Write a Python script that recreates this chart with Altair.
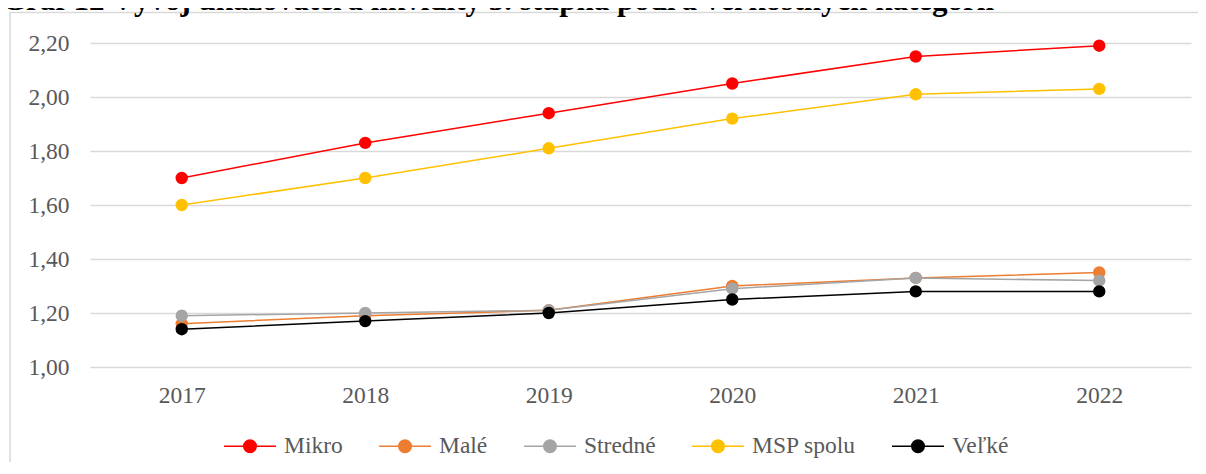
import altair as alt
import pandas as pd

# ---- data ----
years = ["2017", "2018", "2019", "2020", "2021", "2022"]
series = ["Mikro", "Malé", "Stredné", "MSP spolu", "Veľké"]
colors = ["#ff0000", "#ed7d31", "#a5a5a5", "#ffc000", "#000000"]
mikro = [1.70, 1.83, 1.94, 2.05, 2.15, 2.19]
male = [1.16, 1.19, 1.21, 1.30, 1.33, 1.35]
stredne = [1.19, 1.20, 1.21, 1.29, 1.33, 1.32]
msp_spolu = [1.60, 1.70, 1.81, 1.92, 2.01, 2.03]
velke = [1.14, 1.17, 1.20, 1.25, 1.28, 1.28]
y_ticks = [1.0, 1.2, 1.4, 1.6, 1.8, 2.0, 2.2]
title_text = "Graf 12 Vývoj ukazovateľa likvidity 3. stupňa podľa veľkostných kategórií"

values = [mikro, male, stredne, msp_spolu, velke]
rows = []
for s, vals in zip(series, values):
    for yr, v in zip(years, vals):
        rows.append({"rok": yr, "seria": s, "hodnota": v})
df = pd.DataFrame(rows)

FONT = "Liberation Serif"
GREY = "#595959"

# legend symbol: a line with a (ring-filled) dot in the middle
rings = [0.24, 0.192, 0.144, 0.096, 0.048, 0.015]
path = "M-1,0H1"
for r in rings:
    path += f"M{-r},0A{r},{r} 0 1,1 {r},0A{r},{r} 0 1,1 {-r},0"

color = alt.Color(
    "seria:N",
    scale=alt.Scale(domain=series, range=colors),
    sort=series,
    legend=alt.Legend(
        title=None,
        orient="none",
        direction="horizontal",
        legendX=133,
        legendY=376,
        columns=5,
        symbolType=path,
        symbolSize=2704,
        symbolStrokeWidth=1.5,
        labelFont=FONT,
        labelFontSize=23.5,
        labelColor=GREY,
        labelOffset=7,
        columnPadding=33,
        padding=0,
        labelLimit=300,
    ),
)

x = alt.X(
    "rok:O",
    sort=years,
    scale=alt.Scale(type="point", padding=0.5),
    axis=alt.Axis(
        title=None,
        labelAngle=0,
        labelFont=FONT,
        labelFontSize=23.5,
        labelColor=GREY,
        labelPadding=16,
        ticks=False,
        domain=False,
        grid=False,
    ),
)
y = alt.Y(
    "hodnota:Q",
    scale=alt.Scale(domain=[1.0, 2.2], nice=False, zero=False),
    axis=alt.Axis(
        title=None,
        values=y_ticks,
        labelExpr="replace(format(datum.value, '.2f'), '.', ',')",
        labelFont=FONT,
        labelFontSize=23.5,
        labelColor=GREY,
        labelPadding=21,
        ticks=False,
        domain=False,
        grid=True,
        gridColor="#d9d9d9",
        gridWidth=1.5,
    ),
)

base = alt.Chart(df)
lines = base.mark_line(strokeWidth=1.5).encode(x=x, y=y, color=color, detail="seria:N")
points = base.mark_point(filled=True, size=154, opacity=1).encode(
    x=x, y=y, color=alt.Color("seria:N", scale=alt.Scale(domain=series, range=colors), legend=None)
)

frame = alt.Chart(pd.DataFrame({"a": [0]})).mark_rect(
    fillOpacity=0, stroke="#d9d9d9", strokeWidth=1.5
).encode(x=alt.value(-80), x2=alt.value(1300), y=alt.value(-30.5), y2=alt.value(600))

title = alt.Chart(pd.DataFrame({"t": [title_text]})).mark_text(
    align="left", baseline="alphabetic", font=FONT, fontWeight="bold", fontSize=31, color="#000000"
).encode(x=alt.value(-88), y=alt.value(-33), text="t:N")

chart = (
    alt.layer(frame, title, lines, points)
    .properties(
        width=1101,
        height=324,
        autosize=alt.AutoSizeParams(type="none"),
        padding={"left": 82, "top": 35, "right": 7, "bottom": 95},
    )
    .configure(font=FONT)
    .configure_axis(labelFont=FONT, labelFontSize=23.5, labelColor=GREY)
    .configure_legend(labelFont=FONT, labelFontSize=23.5, labelColor=GREY)
    .configure_text(font=FONT)
    .configure_view(strokeWidth=0)
)

chart.save("out.html", embed_options={"renderer": "svg", "actions": False})
